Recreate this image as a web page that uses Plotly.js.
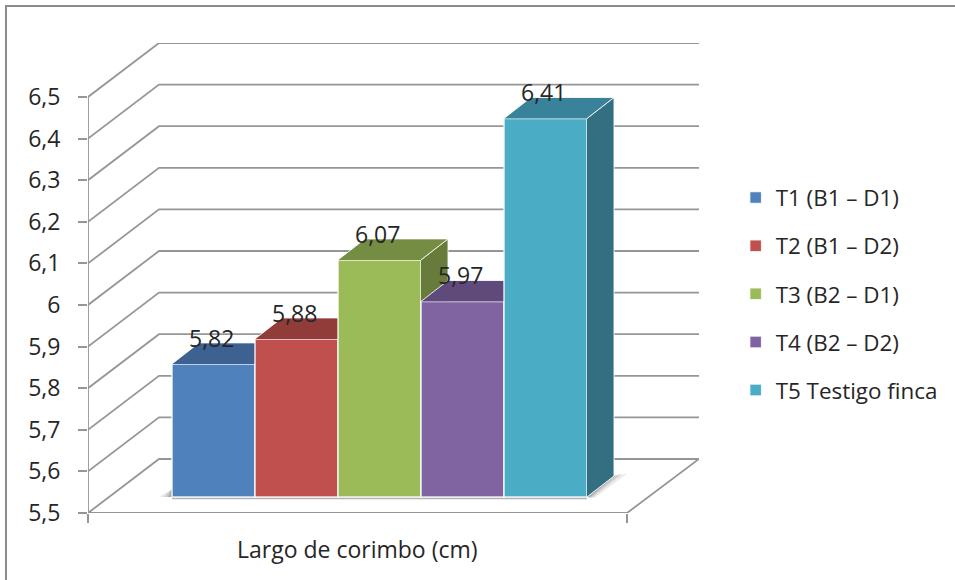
<!DOCTYPE html>
<html>
<head>
<meta charset="utf-8">
<script src="https://cdn.plot.ly/plotly-3.0.1.min.js"></script>
<style>
  html, body { margin: 0; padding: 0; background: #fff; overflow: hidden; }
  #chart { position: absolute; left: 0; top: 0; width: 955px; height: 580px; }
  #frame { position: absolute; left: 5px; top: 5px; right: 0; bottom: 0;
           border-top: 2px solid #8c8c8c; border-left: 2px solid #8c8c8c; }
</style>
</head>
<body>
<div id="frame"></div>
<div id="chart"></div>
<script>
// Series, one bar per treatment
const treatments = ['T1 (B1 – D1)', 'T2 (B1 – D2)', 'T3 (B2 – D1)', 'T4 (B2 – D2)', 'T5 Testigo finca'];
const values = [5.82, 5.88, 6.07, 5.97, 6.41];
const valueLabels = ['5,82', '5,88', '6,07', '5,97', '6,41'];
const frontColors = ['#4f81bd', '#c0504d', '#9bbb59', '#8064a2', '#4bacc6'];
const topColors = ['#3d6291', '#923c3a', '#758d43', '#604a7b', '#398299'];
const sideColors = ['#355680', '#7f3533', '#677c3b', '#554270', '#326f81'];
const tickValues = [5.5, 5.6, 5.7, 5.8, 5.9, 6, 6.1, 6.2, 6.3, 6.4, 6.5];
const tickLabels = ['5,5', '5,6', '5,7', '5,8', '5,9', '6', '6,1', '6,2', '6,3', '6,4', '6,5'];
const categoryLabel = 'Largo de corimbo (cm)';

const FONT = '"Open Sans", sans-serif';
const INK = '#262626';
const GRID = '#969696';

// Oblique projection, in axis units: one bar is 1 wide, values are the y scale
const UX = 83, UY = 416;
const Y_MIN = 5.5;
const X_START = -0.5 - 84 / UX;
const X_FRONT_END = X_START + 539 / UX;
const X_END = X_START + 611 / UX;
const Y_END = Y_MIN + 470 / UY;
const WALL_DX = 71 / UX, WALL_DY = 54 / UY;
const DEPTH_DX = 27 / UX, DEPTH_DY = 21 / UY;
const BAR_FLOOR = 16 / UY;

const traces = [];
const quiet = { hoverinfo: 'skip', showlegend: false };

function polyline(xs, ys, color, width) {
  return Object.assign({ type: 'scatter', mode: 'lines', x: xs, y: ys,
    line: { color: color, width: width, simplify: false } }, quiet);
}
function face(xs, ys, fill, axis) {
  return Object.assign({ type: 'scatter', mode: 'lines', fill: 'toself', fillcolor: fill,
    x: xs, y: ys, xaxis: 'x' + axis, yaxis: 'y' + axis,
    line: { color: 'rgba(255,255,255,0.85)', width: 1 } }, quiet);
}

// Wall and side gridlines, one per tick
tickValues.forEach(function (t) {
  traces.push(polyline(
    [X_START, X_START + WALL_DX, X_END],
    [t, t + WALL_DY, t + WALL_DY], GRID, 1.8));
});
// Floor outline and the value axis
traces.push(polyline(
  [X_START + WALL_DX, X_END, X_FRONT_END, X_START],
  [Y_MIN + WALL_DY, Y_MIN + WALL_DY, Y_MIN, Y_MIN], GRID, 1.8));
traces.push(polyline([X_START, X_START], [Y_MIN, 6.5], GRID, 1.8));

// Soft shadow the bars cast on the floor
const lastEdge = values.length - 0.5;
const baseY = Y_MIN + BAR_FLOOR;
[[0.12, 0.16], [0.2, 0.1], [0.3, 0.05]].forEach(function (s) {
  traces.push(Object.assign({ type: 'scatter', mode: 'lines', fill: 'toself',
    fillcolor: 'rgba(90,90,90,' + s[0] + ')', line: { width: 0 },
    x: [lastEdge, lastEdge + DEPTH_DX, lastEdge + DEPTH_DX + s[1], lastEdge + s[1] * 0.6],
    y: [baseY, baseY + DEPTH_DY, baseY + DEPTH_DY + 0.006, baseY - 0.002] }, quiet));
  traces.push(Object.assign({ type: 'scatter', mode: 'lines', fill: 'toself',
    fillcolor: 'rgba(90,90,90,' + s[0] + ')', line: { width: 0 },
    x: [-0.5 - s[1], -0.5, -0.5], y: [baseY, baseY + 0.022 * (1 - s[1]), baseY] }, quiet));
});
traces.push(polyline([-0.5, lastEdge], [baseY - 0.003, baseY - 0.003], '#b4b4b4', 2));

// Each treatment sits on its own overlaid axes so later bars paint over earlier ones
const layoutAxes = {};
values.forEach(function (v, i) {
  const axis = i + 2;
  const left = i - 0.5, right = i + 0.5;
  const top = v + BAR_FLOOR;
  layoutAxes['xaxis' + axis] = { overlaying: 'x', range: [X_START, X_END], visible: false, fixedrange: true };
  layoutAxes['yaxis' + axis] = { overlaying: 'y', range: [Y_MIN, Y_END], visible: false, fixedrange: true };

  traces.push({
    type: 'bar', name: treatments[i], legendgroup: treatments[i],
    x: [i], y: [v - Y_MIN], base: [baseY], width: 1,
    xaxis: 'x' + axis, yaxis: 'y' + axis,
    marker: { color: frontColors[i], line: { color: 'rgba(255,255,255,0.85)', width: 1.5 } },
    hovertext: [valueLabels[i]], hoverinfo: 'name+text'
  });
  traces.push(face(
    [right, right + DEPTH_DX, right + DEPTH_DX, right],
    [baseY, baseY + DEPTH_DY, top + DEPTH_DY, top], sideColors[i], axis));
  traces.push(face(
    [left, left + DEPTH_DX, right + DEPTH_DX, right],
    [top, top + DEPTH_DY, top + DEPTH_DY, top], topColors[i], axis));
});

// Value labels float just above each bar's front edge
const annotations = values.map(function (v, i) {
  return {
    xref: 'x', yref: 'y', x: i - 2 / UX, y: v + BAR_FLOOR + 26 / UY,
    text: valueLabels[i], showarrow: false, xanchor: 'center', yanchor: 'middle',
    font: { family: FONT, size: 23, color: INK }
  };
});
// Category name centred under the front edge of the floor
annotations.push({
  xref: 'x', yref: 'paper', x: (X_START + X_FRONT_END) / 2, y: 0, yanchor: 'top', xanchor: 'center',
  yshift: -18, text: categoryLabel, showarrow: false,
  font: { family: FONT, size: 23, color: INK }
});

const layout = Object.assign({
  width: 955, height: 580,
  margin: { l: 88, r: 256, t: 43, b: 67 },
  paper_bgcolor: 'rgba(0,0,0,0)', plot_bgcolor: 'rgba(0,0,0,0)',
  font: { family: FONT, color: INK },
  showlegend: true,
  legend: {
    x: 1.06, y: 0.716, xanchor: 'left', yanchor: 'top',
    font: { family: FONT, size: 22.4, color: INK },
    tracegroupgap: 16, traceorder: 'grouped', bgcolor: 'rgba(0,0,0,0)'
  },
  xaxis: {
    range: [X_START, X_END], fixedrange: true, zeroline: false, showgrid: false, showline: false,
    tickmode: 'array', tickvals: [X_START, X_FRONT_END], ticktext: ['', ''],
    ticks: 'outside', ticklen: 9, tickwidth: 2, tickcolor: GRID
  },
  yaxis: {
    range: [Y_MIN, Y_END], fixedrange: true, zeroline: false, showgrid: false, showline: false,
    tickmode: 'array', tickvals: tickValues, ticktext: tickLabels,
    ticks: 'outside', ticklen: 9, tickwidth: 2, tickcolor: GRID,
    ticklabelstandoff: 13,
    tickfont: { family: FONT, size: 23, color: INK }
  },
  annotations: annotations
}, layoutAxes);

Plotly.newPlot('chart', traces, layout, { displayModeBar: false, staticPlot: true });
</script>
</body>
</html>
